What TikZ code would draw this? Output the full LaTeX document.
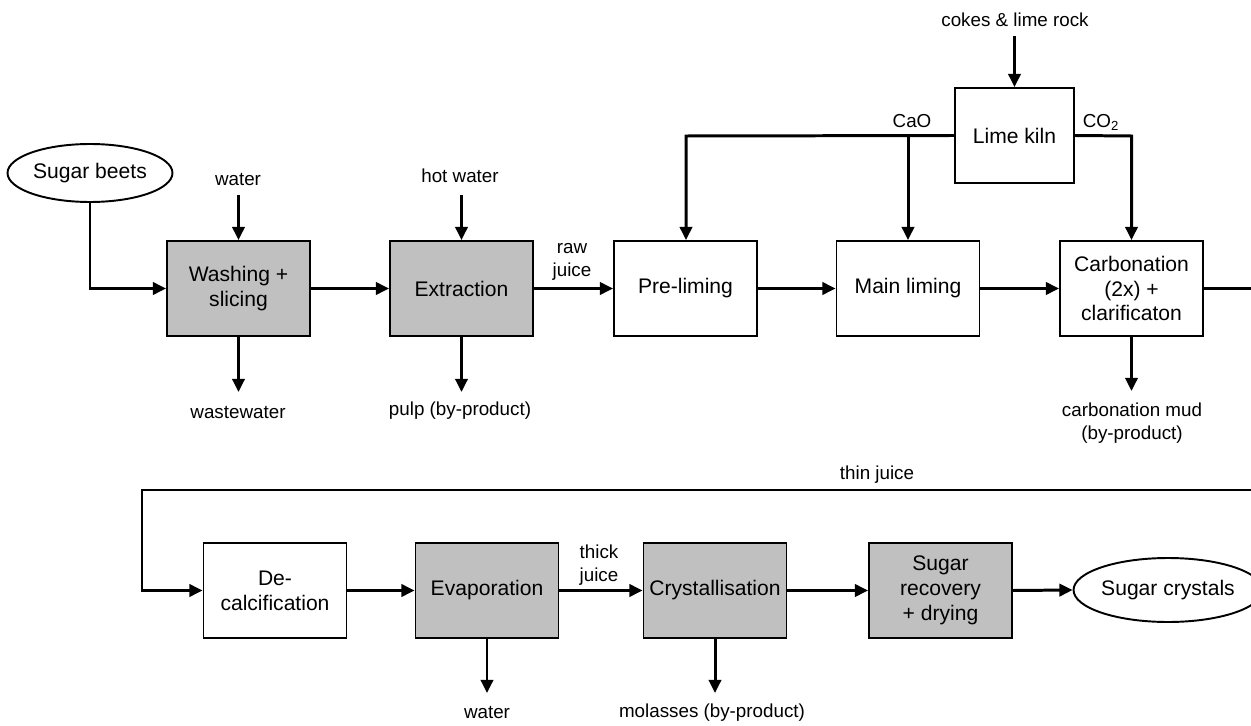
\documentclass[tikz,border=0pt]{standalone}
\usepackage{fontspec}
\setmainfont{Liberation Sans}
\usetikzlibrary{arrows.meta,shapes.geometric}
\definecolor{boxgray}{HTML}{C0C0C0}
\tikzset{
  box/.style={draw, line width=1.1pt, minimum width=2.86cm, minimum height=1.9cm, align=center, inner sep=1pt, font=\fontsize{12}{14.2}\selectfont},
  gbox/.style={box, fill=boxgray},
  oval/.style={draw, ellipse, line width=1.1pt, inner sep=0pt, font=\fontsize{12}{14}\selectfont},
  lbl/.style={font=\fontsize{10.7}{13}\selectfont, align=center, inner sep=0pt},
  arr/.style={line width=1.7pt, -{Triangle[length=7.5pt,width=7pt]}},
  ln/.style={line width=1.7pt}
}
\begin{document}
\begin{tikzpicture}[x=0.02cm,y=-0.02cm]
\useasboundingbox (0,0) rectangle (1251,726);
% row 1
\node[oval, minimum width=3.3cm, minimum height=1.16cm] (beets) at (90,173) {Sugar beets};
\node[gbox] (wash) at (238.5,288.5) {Washing +\\slicing};
\node[gbox] (extr) at (461.5,288.5) {Extraction};
\node[box] (pre) at (685.5,288.5) {Pre-liming};
\node[box] (main) at (908,288.5) {Main liming};
\node[box] (carb) at (1131.5,288.5) {Carbonation\\(2x) +\\clarificaton};
\node[box, minimum width=2.38cm] (kiln) at (1014.5,135.5) {Lime kiln};
% labels row 1
\node[lbl] (lwater) at (238,180) {water};
\node[lbl] (lwaste) at (238,413) {wastewater};
\node[lbl] (lhot) at (460,176) {hot water};
\node[lbl] (lpulp) at (460,411) {pulp (by-product)};
\node[lbl] (lraw) at (572,262) {raw\\juice};
\node[lbl] (lcokes) at (1015,20) {cokes \& lime rock};
\node[lbl] (lcao) at (912,121) {CaO};
\node[lbl] (lco2) at (1101,122) {CO\textsubscript{2}};
\node[lbl] (lmud) at (1132,423) {carbonation mud\\(by-product)};
% row 2
\node[box] (decal) at (275,590.5) {De-\\calcification};
\node[gbox] (evap) at (487,590.5) {Evaporation};
\node[gbox] (cryst) at (715,590.5) {Crystallisation};
\node[gbox] (recov) at (940.5,590.5) {Sugar\\recovery\\+ drying};
\node[oval, minimum width=3.28cm, minimum height=1.28cm] (cryst2) at (1168,590) {Sugar crystals};
\node[lbl] (lthin) at (877,475) {thin juice};
\node[lbl] (lthick) at (599,565) {thick\\juice};
\node[lbl] (lwater2) at (487,713) {water};
\node[lbl] (lmol) at (712,713) {molasses (by-product)};
% coordinates
\coordinate (wIn) at (238.5,195);
\coordinate (wOut) at (238.5,392);
\coordinate (hIn) at (461.5,195);
\coordinate (pOut) at (461.5,392);
\coordinate (cIn) at (1014.5,36);
\coordinate (caoPre) at (686,136);
\coordinate (caoMain) at (908,136);
\coordinate (co2) at (1131.5,136);
\coordinate (mudOut) at (1131.5,391);
\coordinate (rEdge) at (1251,288.5);
\coordinate (tRight) at (1251,490);
\coordinate (tLeft) at (142,490);
\coordinate (evOut) at (487,693);
\coordinate (mOut) at (715,693);
% connectors row 1
\draw[arr] (beets.south) |- (wash.west);
\draw[arr] (wIn) -- (wash.north);
\draw[arr] (wash.south) -- (wOut);
\draw[arr] (wash.east) -- (extr.west);
\draw[arr] (hIn) -- (extr.north);
\draw[arr] (extr.south) -- (pOut);
\draw[arr] (extr.east) -- (pre.west);
\draw[arr] (pre.east) -- (main.west);
\draw[arr] (main.east) -- (carb.west);
\draw[ln] (carb.east) -- (rEdge);
\draw[arr] (cIn) -- (kiln.north);
\draw[arr] (kiln.west) -- (caoPre) -- (pre.north -| caoPre);
\draw[arr] (caoMain) -- (main.north);
\draw[arr] (kiln.east) -- (co2) -- (carb.north);
\draw[arr] (carb.south) -- (mudOut);
% connectors row 2
\draw[arr] (tRight) -- (tLeft) |- (decal.west);
\draw[arr] (decal.east) -- (evap.west);
\draw[arr] (evap.east) -- (cryst.west);
\draw[arr] (cryst.east) -- (recov.west);
\draw[arr] (recov.east) -- (cryst2.west);
\draw[arr] (evap.south) -- (evOut);
\draw[arr] (cryst.south) -- (mOut);
\end{tikzpicture}
\end{document}
